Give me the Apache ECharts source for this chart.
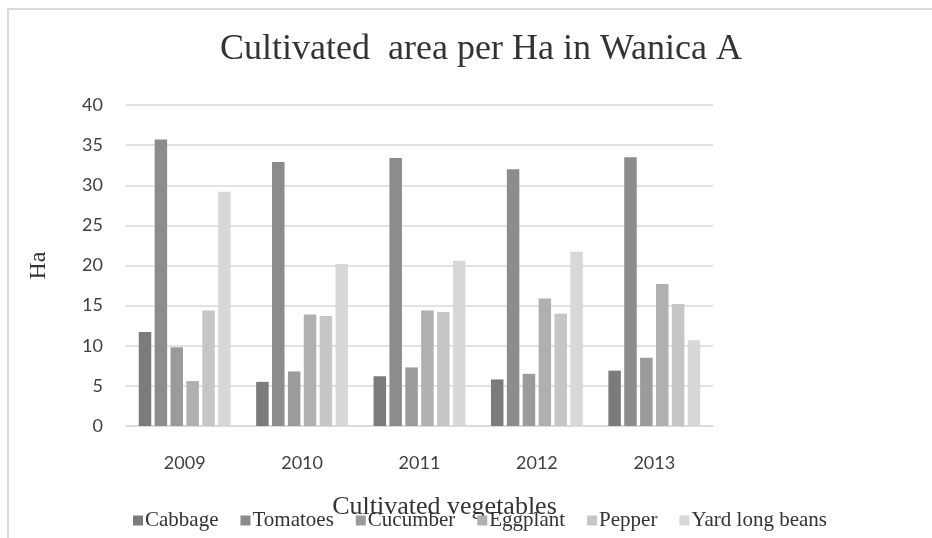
<!DOCTYPE html>
<html>
<head>
<meta charset="utf-8">
<script src="https://cdn.jsdelivr.net/npm/echarts@6/dist/echarts.min.js"></script>
<style>
  html, body { margin: 0; padding: 0; background: #fff; }
  #frame { position: absolute; left: 7px; top: 8px; width: 940px; height: 540px;
           border-top: 2px solid #d9d9d9; border-left: 2px solid #d9d9d9; }
  #chart { position: absolute; left: 0; top: 0; width: 932px; height: 538px; }
</style>
</head>
<body>
<div id="frame"></div>
<div id="chart"></div>
<script>
var years = ["2009", "2010", "2011", "2012", "2013"];
var cabbage = [11.7, 5.5, 6.2, 5.8, 6.9];
var tomatoes = [35.7, 32.9, 33.4, 32.0, 33.5];
var cucumber = [9.8, 6.8, 7.3, 6.5, 8.5];
var eggplant = [5.6, 13.9, 14.4, 15.9, 17.7];
var pepper = [14.4, 13.7, 14.2, 14.0, 15.2];
var yardLongBeans = [29.2, 20.2, 20.6, 21.7, 10.7];

var seriesNames = ["Cabbage", "Tomatoes", "Cucumber", "Eggplant", "Pepper", "Yard long beans"];
var seriesData = [cabbage, tomatoes, cucumber, eggplant, pepper, yardLongBeans];
var colors = ["#7b7b7b", "#8c8c8c", "#9b9b9b", "#b0b0b0", "#c6c6c6", "#d8d8d8"];

var chart = echarts.init(document.getElementById("chart"));

var series = [];
for (let i = 0; i < seriesNames.length; i++) {
  series.push({
    name: seriesNames[i],
    type: "bar",
    barWidth: 12.5,
    barGap: "27%",
    data: seriesData[i],
    itemStyle: { color: colors[i] }
  });
}

var option = {
  animation: false,
  color: colors,
  title: {
    text: "Cultivated  area per Ha in Wanica A",
    left: 476,
    top: 27,
    textAlign: "center",
    textStyle: {
      fontFamily: "Liberation Serif",
      fontSize: 36,
      fontWeight: "normal",
      color: "#333"
    }
  },
  legend: {
    top: 505,
    left: 128,
    itemWidth: 10,
    itemHeight: 10,
    itemGap: 22,
    icon: "rect",
    textStyle: {
      fontFamily: "Liberation Serif",
      fontSize: 21,
      color: "#333",
      padding: [0, 0, 0, -3]
    },
    data: seriesNames
  },
  grid: {
    left: 126,
    right: 219,
    top: 105,
    bottom: 112
  },
  xAxis: {
    type: "category",
    data: years,
    name: "Cultivated vegetables",
    nameLocation: "middle",
    nameGap: 68,
    nameTextStyle: {
      fontFamily: "Liberation Serif",
      fontSize: 26,
      color: "#333",
      padding: [0, 0, 0, 50]
    },
    axisLine: { lineStyle: { color: "#d9d9d9", width: 1.5 } },
    axisTick: { show: false },
    axisLabel: {
      fontFamily: "Lato",
      fontSize: 18,
      color: "#404040",
      margin: 28
    }
  },
  yAxis: {
    type: "value",
    min: 0,
    max: 40,
    interval: 5,
    name: "Ha",
    nameLocation: "middle",
    nameGap: 75,
    nameRotate: 90,
    nameTextStyle: {
      fontFamily: "Liberation Serif",
      fontSize: 24,
      color: "#333"
    },
    axisLine: { show: false },
    axisTick: { show: false },
    axisLabel: {
      fontFamily: "Lato",
      fontSize: 18,
      color: "#404040",
      margin: 23
    },
    splitLine: { lineStyle: { color: "#d9d9d9", width: 1.5 } }
  },
  series: series
};

chart.setOption(option);
</script>
</body>
</html>
